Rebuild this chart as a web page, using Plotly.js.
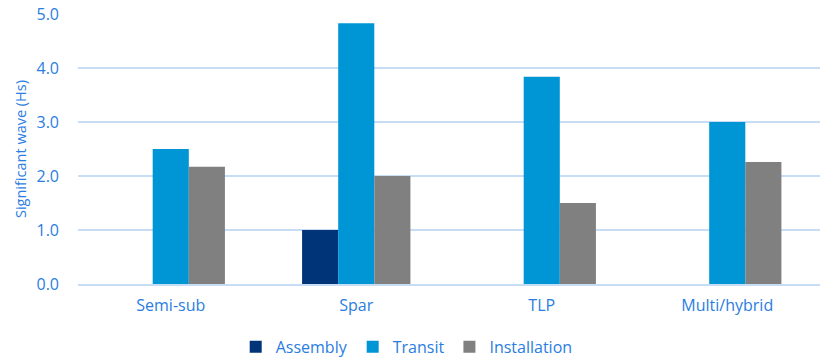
<!DOCTYPE html>
<html>
<head>
<meta charset="utf-8">
<script src="https://cdn.plot.ly/plotly-3.0.1.min.js"></script>
<style>
  html, body { margin: 0; padding: 0; background: #fff; }
  #chart { width: 829px; height: 362px; }
</style>
</head>
<body>
<div id="chart"></div>
<script>
// Platform types along the x axis
const categories = ['Semi-sub', 'Spar', 'TLP', 'Multi/hybrid'];

// Significant wave height limits (Hs) per phase
const assembly = [null, 1.0, null, null];
const transit = [2.5, 4.83, 3.84, 3.0];
const installation = [2.17, 2.0, 1.5, 2.26];

const textBlue = '#2a7de1';
const gridBlue = '#c7ddf6';

function makeTrace(name, values, color) {
    return {
        type: 'bar',
        name: name,
        x: categories,
        y: values,
        marker: { color: color, line: { width: 0 } },
        hoverinfo: 'x+y+name'
    };
}

const traces = [
    makeTrace('Assembly', assembly, '#003478'),
    makeTrace('Transit', transit, '#0096d6'),
    makeTrace('Installation', installation, '#808080')
];

const layout = {
    width: 829,
    height: 362,
    margin: { l: 78, r: 9, t: 14, b: 78, autoexpand: false },
    paper_bgcolor: '#ffffff',
    plot_bgcolor: '#ffffff',
    font: { family: 'Open Sans, sans-serif', size: 16, color: textBlue },
    barmode: 'group',
    bargap: 0.416,
    bargroupgap: 0,
    xaxis: {
        showgrid: false,
        showline: true,
        linecolor: gridBlue,
        linewidth: 2,
        ticks: '',
        tickfont: { size: 16, color: textBlue },
        ticklabelstandoff: 6
    },
    yaxis: {
        range: [0, 5],
        dtick: 1,
        tickformat: '.1f',
        showgrid: true,
        gridcolor: gridBlue,
        gridwidth: 2,
        zeroline: false,
        showline: false,
        ticks: '',
        ticklabelstandoff: 18,
        tickfont: { size: 16, color: textBlue },
        title: { text: 'Significant wave (Hs)', font: { size: 14.5, color: textBlue }, standoff: 6 }
    },
    legend: {
        orientation: 'h',
        x: 0.443,
        xanchor: 'center',
        y: -0.233,
        yanchor: 'middle',
        font: { size: 16, color: textBlue },
        itemwidth: 30,
        traceorder: 'normal'
    },
    showlegend: true
};

Plotly.newPlot('chart', traces, layout, { displayModeBar: false, staticPlot: true });
</script>
</body>
</html>
